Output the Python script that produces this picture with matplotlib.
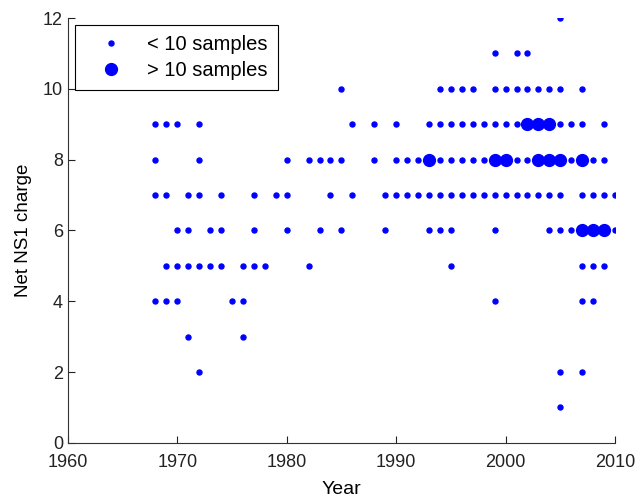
import numpy as np
import matplotlib.pyplot as plt

plt.rcParams['font.family'] = ['Liberation Sans', 'DejaVu Sans']

# years with < 10 samples, one list per net NS1 charge
c12 = [2005]
c11 = [1999, 2001, 2002]
c10 = [1985, 1994, 1995, 1996, 1997, 1999, 2000, 2001, 2002, 2003, 2004, 2005, 2007]
c9 = [1968, 1969, 1970, 1972, 1986, 1988, 1990, 1993, 1994, 1995, 1996, 1997,
      1998, 1999, 2000, 2001, 2005, 2006, 2007, 2009]
c8 = [1968, 1972, 1980, 1982, 1983, 1984, 1985, 1988, 1990, 1991, 1992, 1994,
      1995, 1996, 1997, 1998, 2001, 2002, 2006, 2008, 2009]
c7 = [1968, 1969, 1971, 1972, 1974, 1977, 1979, 1980, 1984, 1986, 1989, 1990,
      1991, 1992, 1993, 1994, 1995, 1996, 1997, 1998, 1999, 2000, 2001, 2002,
      2003, 2004, 2005, 2007, 2008, 2009, 2010]
c6 = [1970, 1971, 1973, 1974, 1977, 1980, 1983, 1985, 1989, 1993, 1994, 1995,
      1999, 2004, 2005, 2006, 2010]
c5 = [1969, 1970, 1971, 1972, 1973, 1974, 1976, 1977, 1978, 1982, 1995, 2007,
      2008, 2009]
c4 = [1968, 1969, 1970, 1975, 1976, 1999, 2007, 2008]
c3 = [1971, 1976]
c2 = [1972, 2005, 2007]
c1 = [2005]

# years with > 10 samples
big_year = [2002, 2003, 2004, 1993, 1999, 2000, 2003, 2004, 2005, 2007, 2007, 2008, 2009]
big_charge = [9, 9, 9, 8, 8, 8, 8, 8, 8, 8, 6, 6, 6]

rows = {12: c12, 11: c11, 10: c10, 9: c9, 8: c8, 7: c7, 6: c6, 5: c5,
        4: c4, 3: c3, 2: c2, 1: c1}
small_year = np.concatenate([np.array(v, float) for v in rows.values()])
small_charge = np.concatenate([np.full(len(v), k, float) for k, v in rows.items()])

fig = plt.figure(figsize=(6.4, 5.01), dpi=100)
ax = fig.add_axes([0.106, 0.116, 0.855, 0.848])

ax.plot(small_year, small_charge, 'o', color='blue', ms=3.6, mec='blue',
        ls='none', label='< 10 samples')
ax.plot(big_year, big_charge, 'o', color='blue', ms=8.5, mec='blue',
        ls='none', label='> 10 samples')

ax.set_xlim(1960, 2010)
ax.set_ylim(0, 12)
ax.set_xticks(range(1960, 2011, 10))
ax.set_yticks(range(0, 13, 2))
for s in ['top', 'right']:
    ax.spines[s].set_visible(False)
for s in ['left', 'bottom']:
    ax.spines[s].set_linewidth(0.8)
    ax.spines[s].set_color('#333333')
ax.tick_params(direction='in', length=5, labelsize=13, colors='#222222')
ax.tick_params(axis='x', pad=8)

ax.set_xlabel('Year', fontsize=14, labelpad=7)
ax.set_ylabel('Net NS1 charge', fontsize=13.5, labelpad=8)

leg = ax.legend(loc='upper left', bbox_to_anchor=(0.013, 0.983), fontsize=14.5,
                fancybox=False, edgecolor='black', framealpha=1,
                borderaxespad=0, handlelength=2.6, handletextpad=0.5,
                borderpad=0.5, labelspacing=0.35)
leg.get_frame().set_linewidth(0.8)

fig.savefig('out.png', dpi=100)
